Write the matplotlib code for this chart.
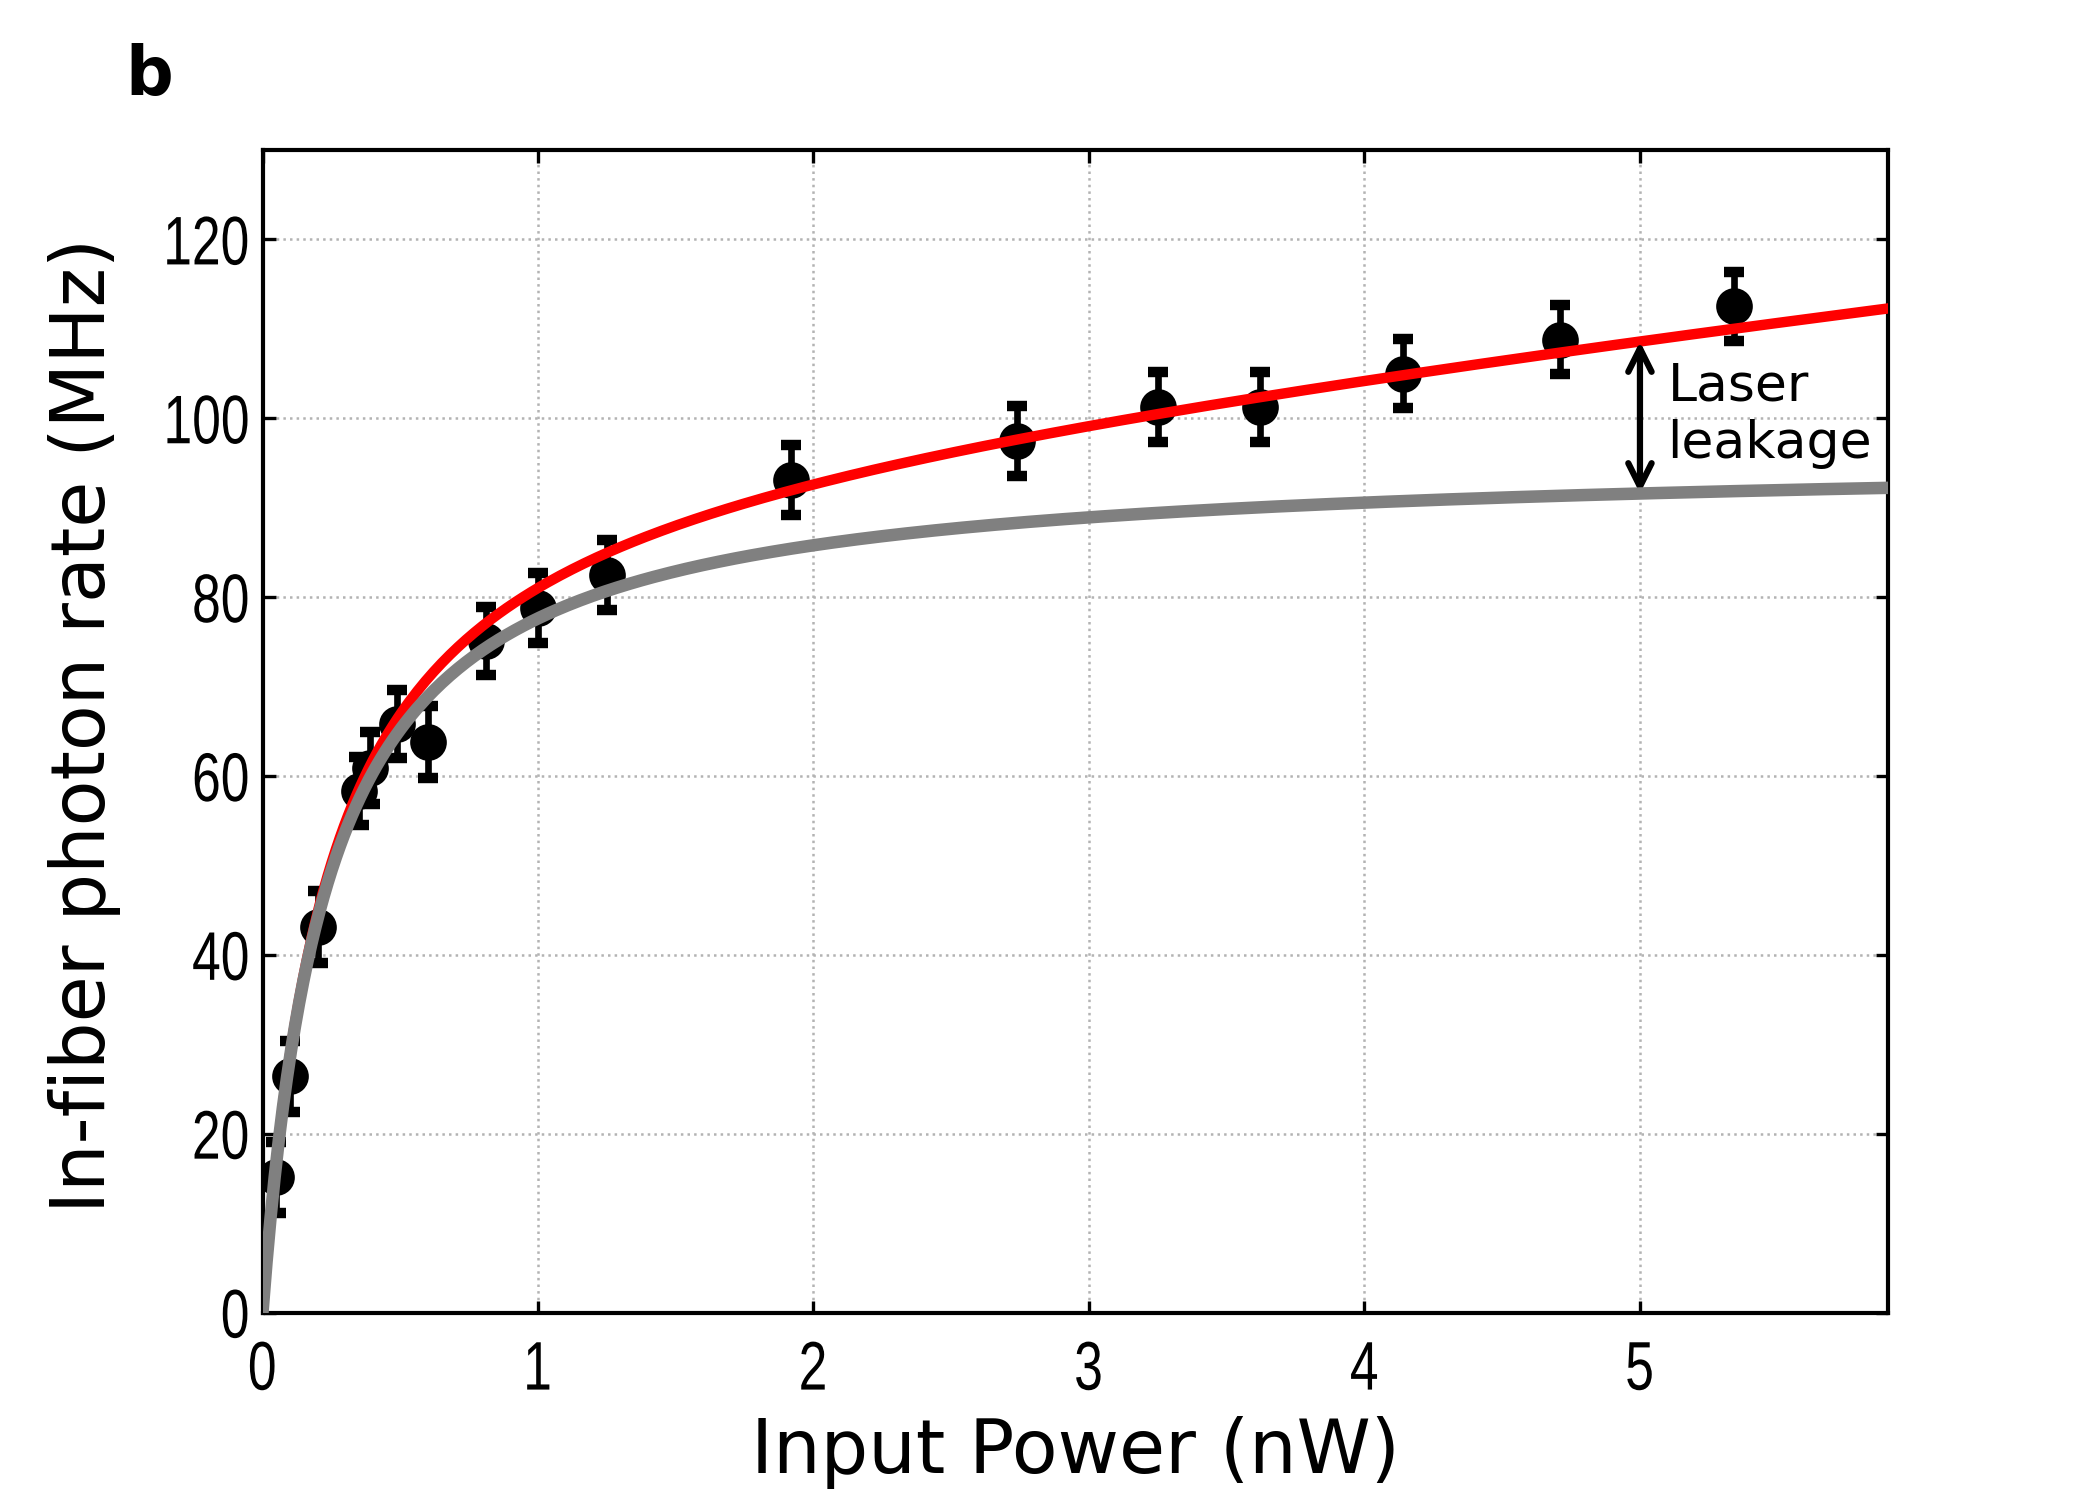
import numpy as np
import matplotlib
matplotlib.use('Agg')
import matplotlib.pyplot as plt
from matplotlib.patheffects import AbstractPathEffect
from matplotlib.transforms import Affine2D

power = [0.05, 0.10, 0.20, 0.35, 0.39, 0.49, 0.60, 0.81, 1.00, 1.25,
         1.92, 2.74, 3.25, 3.62, 4.14, 4.71, 5.34]
rate = [15.1, 26.4, 43.1, 58.3, 60.9, 65.8, 63.8, 75.1, 78.8, 82.5,
        93.1, 97.5, 101.3, 101.3, 105.0, 108.8, 112.5]
rate_err = [4.0, 4.0, 4.0, 3.8, 4.0, 3.8, 4.0, 3.8, 3.9, 3.9,
            3.9, 3.9, 3.9, 3.9, 3.9, 3.9, 3.9]

# fit parameters: saturation + linear laser leakage
r_sat = 95.9     # MHz
p_sat = 0.2355   # nW
leak = 3.4       # MHz / nW

p_fit = np.linspace(0, 5.9, 400)
single = r_sat * p_fit / (p_fit + p_sat)
total = single + leak * p_fit


class Squeeze(AbstractPathEffect):
    """narrow the glyphs horizontally (tick labels in the original are condensed)"""
    def __init__(self, sx, anchor='center'):
        super().__init__()
        self.sx = sx
        self.anchor = anchor

    def draw_path(self, renderer, gc, tpath, affine, rgbFace=None):
        xs = affine.transform(tpath.vertices)[:, 0]
        if self.anchor == 'right':
            cx = xs.max()
        else:
            cx = 0.5 * (xs.min() + xs.max())
        sq = affine + Affine2D().translate(-cx, 0).scale(self.sx, 1).translate(cx, 0)
        renderer.draw_path(gc, tpath, sq, rgbFace)


fig = plt.figure(figsize=(7, 5), dpi=300)
ax = fig.add_axes([0.125, 0.125, 0.774, 0.775])

ax.errorbar(power, rate, yerr=rate_err, fmt='o', color='k', ms=7.8,
            elinewidth=1.6, capsize=2.5, capthick=2.5, zorder=2)
ax.plot(p_fit, total, color='red', lw=2.5, zorder=3)
ax.plot(p_fit, single, color='gray', lw=3, zorder=4)

p_arrow = 5.0
lo = r_sat * p_arrow / (p_arrow + p_sat)
hi = lo + leak * p_arrow
ax.annotate('', xy=(p_arrow, hi), xytext=(p_arrow, lo),
            arrowprops=dict(arrowstyle='<->', color='k', lw=1.5,
                            mutation_scale=14, shrinkA=0, shrinkB=0))
ax.text(5.1, 100.3, 'Laser\nleakage', fontsize=12.5, va='center',
        ha='left', family='DejaVu Sans')

ax.set_xlim(0, 5.9)
ax.set_ylim(0, 130)
ax.set_xticks([0, 1, 2, 3, 4, 5])
ax.set_yticks([0, 20, 40, 60, 80, 100, 120])
ax.tick_params(direction='in', top=True, right=True, length=3, width=0.8,
               labelsize=16.5)
ax.tick_params(axis='x', pad=6.5)
ax.tick_params(axis='y', pad=3)
for lab in ax.get_xticklabels():
    lab.set_family(['Liberation Sans', 'DejaVu Sans'])
    lab.set_path_effects([Squeeze(0.75, 'center')])
for lab in ax.get_yticklabels():
    lab.set_family(['Liberation Sans', 'DejaVu Sans'])
    lab.set_path_effects([Squeeze(0.75, 'right')])
ax.grid(True, color='0.7', linestyle=':', lw=0.6)
ax.set_axisbelow(True)
for s in ax.spines.values():
    s.set_linewidth(1.0)

ax.set_xlabel('Input Power (nW)', fontsize=18, family='DejaVu Sans',
              labelpad=3)
ax.set_ylabel('In-fiber photon rate (MHz)', fontsize=18,
              family='DejaVu Sans')
ax.yaxis.set_label_coords(-0.087, 0.505)

fig.text(0.071, 0.949, 'b', fontsize=16, fontweight='bold',
         ha='center', va='center', family='DejaVu Sans')

fig.savefig('out.png', dpi=300)
